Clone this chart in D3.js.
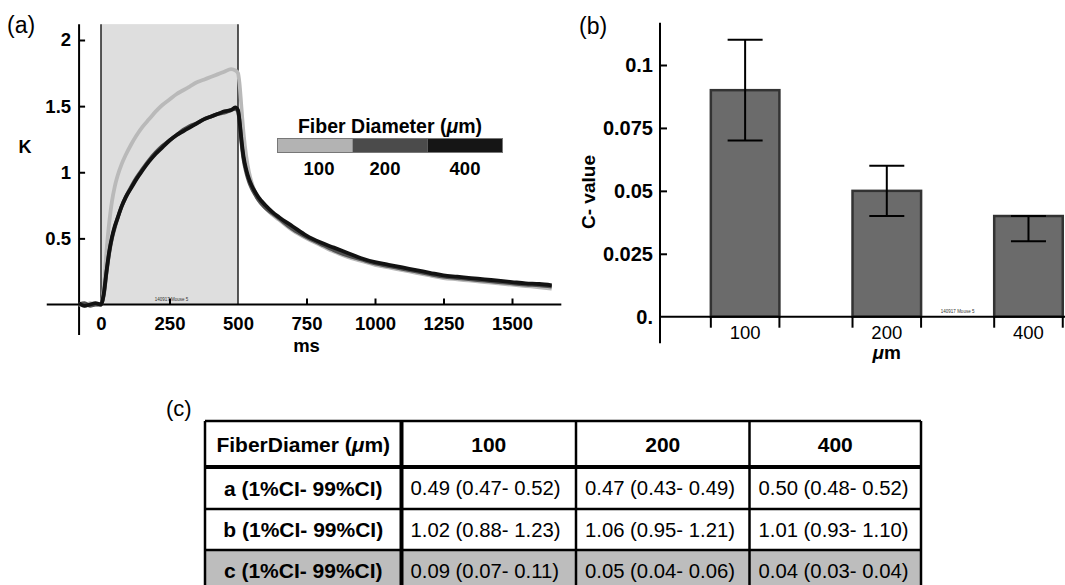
<!DOCTYPE html>
<html>
<head>
<meta charset="utf-8">
<script src="https://cdn.jsdelivr.net/npm/d3@7"></script>
<style>
  body { margin: 0; background: #fff; }
  svg text { font-family: "Liberation Sans", Arial, Helvetica, sans-serif; }
</style>
</head>
<body>
<svg id="fig" width="1065" height="585"></svg>
<script>
// ---- data ----
var timeMs = [-80, -60, -40, -20, 0, 10, 20, 30, 40, 50, 60, 75, 90, 110, 130, 150,
  175, 200, 225, 250, 275, 300, 325, 350, 375, 400, 425, 450, 475, 490, 500,
  505, 510, 515, 520, 530, 540, 550, 560, 575, 600, 625, 650,
  700, 750, 800, 850, 900, 950, 1000, 1050, 1100, 1150, 1200, 1250, 1300, 1350,
  1400, 1450, 1500, 1550, 1600, 1645];

var k100 = [0, -0.01, 0.01, 0, 0, 0.12, 0.40, 0.62, 0.78, 0.89, 0.97, 1.06, 1.13, 1.21, 1.28, 1.34,
  1.40, 1.46, 1.51, 1.55, 1.59, 1.62, 1.65, 1.68, 1.70, 1.72, 1.74, 1.76, 1.78, 1.77, 1.75,
  1.68, 1.56, 1.42, 1.30, 1.12, 1.00, 0.92, 0.86, 0.79, 0.73, 0.68, 0.64,
  0.56, 0.50, 0.45, 0.40, 0.36, 0.33, 0.30, 0.28, 0.26, 0.24, 0.22, 0.20, 0.19, 0.18,
  0.17, 0.16, 0.15, 0.14, 0.13, 0.12];

var k200 = [0, 0.01, -0.01, 0, 0, 0.07, 0.24, 0.39, 0.50, 0.58, 0.65, 0.74, 0.81, 0.89, 0.96, 1.02,
  1.09, 1.15, 1.20, 1.24, 1.28, 1.32, 1.35, 1.37, 1.40, 1.42, 1.44, 1.45, 1.47, 1.48, 1.46,
  1.39, 1.28, 1.18, 1.10, 1.00, 0.93, 0.88, 0.84, 0.79, 0.73, 0.69, 0.65,
  0.57, 0.51, 0.46, 0.41, 0.37, 0.34, 0.31, 0.29, 0.27, 0.25, 0.23, 0.21, 0.20, 0.19,
  0.18, 0.17, 0.16, 0.15, 0.145, 0.135];

var k400 = [0.01, -0.01, 0, 0.01, 0, 0.08, 0.25, 0.40, 0.51, 0.59, 0.65, 0.74, 0.81, 0.88, 0.95, 1.01,
  1.08, 1.14, 1.19, 1.24, 1.28, 1.31, 1.34, 1.37, 1.40, 1.42, 1.44, 1.46, 1.47, 1.49, 1.47,
  1.40, 1.30, 1.20, 1.12, 1.02, 0.95, 0.90, 0.86, 0.81, 0.75, 0.70, 0.66,
  0.59, 0.52, 0.47, 0.43, 0.39, 0.35, 0.32, 0.30, 0.28, 0.26, 0.24, 0.22, 0.21, 0.20,
  0.19, 0.18, 0.17, 0.16, 0.155, 0.145];

var diameters = ["100", "200", "400"];
var seriesColors = ["#b9b9b9", "#505050", "#121212"];
var legendColors = ["#b3b3b3", "#4b4b4b", "#151515"];

var msTicks = [0, 250, 500, 750, 1000, 1250, 1500];
var kTicks = [0.5, 1, 1.5, 2];

var cValue = [0.09, 0.05, 0.04];
var cLow = [0.07, 0.04, 0.03];
var cHigh = [0.11, 0.06, 0.04];
var cTicks = [0, 0.025, 0.05, 0.075, 0.1];
var cTickLabels = ["0.", "0.025", "0.05", "0.075", "0.1"];

var tableRowLabels = ["a (1%CI- 99%CI)", "b (1%CI- 99%CI)", "c (1%CI- 99%CI)"];
var tableA = ["0.49 (0.47- 0.52)", "0.47 (0.43- 0.49)", "0.50 (0.48- 0.52)"];
var tableB = ["1.02 (0.88- 1.23)", "1.06 (0.95- 1.21)", "1.01 (0.93- 1.10)"];
var tableC = ["0.09 (0.07- 0.11)", "0.05 (0.04- 0.06)", "0.04 (0.03- 0.04)"];

var svg = d3.select("#fig");
var FONT = "Liberation Sans, Arial, sans-serif";

// helper: "(µm)" with italic mu
function muLabel(sel, before, after) {
  sel.append("tspan").text(before);
  sel.append("tspan").attr("font-style", "italic").text("\u03bc");
  sel.append("tspan").text(after);
}

// ================= panel (a) =================
var xA = d3.scaleLinear().domain([0, 1500]).range([101, 512]);
var yA = d3.scaleLinear().domain([0, 2]).range([304.5, 40]);

var gA = svg.append("g");

// stimulus window
gA.append("rect")
  .attr("x", xA(0)).attr("y", yA(2.12))
  .attr("width", xA(500) - xA(0)).attr("height", yA(0) - yA(2.12))
  .attr("fill", "#dedede");
[0, 500].forEach(function(t) {
  gA.append("line")
    .attr("x1", xA(t)).attr("x2", xA(t))
    .attr("y1", yA(2.12)).attr("y2", yA(0))
    .attr("stroke", "#222").attr("stroke-width", 1.5);
});

gA.append("text")
  .attr("x", (xA(0) + xA(500)) / 2 + 2).attr("y", yA(0) - 4)
  .attr("text-anchor", "middle").attr("font-size", 4.5).attr("fill", "#333")
  .text("140917 Mouse 5");

// axes lines (crossing at the corner)
gA.append("line")
  .attr("x1", xA(-198)).attr("x2", xA(1680))
  .attr("y1", yA(0)).attr("y2", yA(0))
  .attr("stroke", "#000").attr("stroke-width", 2);
gA.append("line")
  .attr("x1", xA(-80)).attr("x2", xA(-80))
  .attr("y1", yA(2.12)).attr("y2", yA(-0.23))
  .attr("stroke", "#000").attr("stroke-width", 2);

var xAxisA = gA.append("g")
  .attr("transform", "translate(0," + yA(0) + ")")
  .call(d3.axisBottom(xA).tickValues(msTicks).tickFormat(d3.format("d"))
    .tickSizeInner(-6).tickSizeOuter(0).tickPadding(12));
xAxisA.select(".domain").remove();
xAxisA.selectAll(".tick line").attr("stroke-width", 2);
xAxisA.selectAll(".tick line").filter(function(d) { return d === 0 || d === 500; }).remove();
xAxisA.selectAll("text").attr("font-size", 18.5).attr("font-weight", "bold").attr("font-family", FONT);

var yAxisA = gA.append("g")
  .attr("transform", "translate(" + xA(-80) + ",0)")
  .call(d3.axisLeft(yA).tickValues(kTicks).tickSizeInner(-6).tickSizeOuter(0).tickPadding(8)
    .tickFormat(function(d) { return String(d); }));
yAxisA.select(".domain").remove();
yAxisA.selectAll(".tick line").attr("stroke-width", 2);
yAxisA.selectAll("text").attr("font-size", 18.5).attr("font-weight", "bold").attr("font-family", FONT);

gA.append("text").attr("x", 25).attr("y", 153).attr("text-anchor", "middle")
  .attr("font-size", 18).attr("font-weight", "bold").text("K");
gA.append("text").attr("x", xA(750)).attr("y", 352).attr("text-anchor", "middle")
  .attr("font-size", 18.5).attr("font-weight", "bold").text("ms");
gA.append("text").attr("x", 7).attr("y", 33)
  .attr("font-size", 23).text("(a)");

// traces
var series = [k100, k200, k400];
var line = d3.line()
  .x(function(d) { return xA(d[0]); })
  .y(function(d) { return yA(d[1]); })
  .curve(d3.curveMonotoneX);

gA.selectAll(".trace")
  .data(series)
  .enter()
  .append("path")
  .attr("class", "trace")
  .attr("d", function(vals) { return line(d3.zip(timeMs, vals)); })
  .attr("fill", "none")
  .attr("stroke", function(d, i) { return seriesColors[i]; })
  .attr("stroke-width", 3.8)
  .attr("stroke-linejoin", "round");

// legend
var leg = gA.append("g");
var legScale = d3.scaleBand().domain(diameters).range([277.5, 502.5]);
leg.append("text").attr("x", 390).attr("y", 133).attr("text-anchor", "middle")
  .attr("font-size", 19.5).attr("font-weight", "bold")
  .call(muLabel, "Fiber Diameter (", "m)");
leg.selectAll("rect").data(diameters).enter().append("rect")
  .attr("x", function(d) { return legScale(d); })
  .attr("y", 138.5).attr("width", legScale.bandwidth()).attr("height", 14)
  .attr("fill", function(d, i) { return legendColors[i]; });
leg.append("rect").attr("x", 277.5).attr("y", 138.5).attr("width", 225).attr("height", 14)
  .attr("fill", "none").attr("stroke", "#777").attr("stroke-width", 1);
leg.selectAll(".legLab").data(diameters).enter().append("text")
  .attr("class", "legLab")
  .attr("x", function(d) { return legScale(d) + legScale.bandwidth() / 2 + (d === "100" ? 4 : d === "200" ? -5 : 0); })
  .attr("y", 175).attr("text-anchor", "middle")
  .attr("font-size", 18.5).attr("font-weight", "bold")
  .text(function(d) { return d; });

// ================= panel (b) =================
var xB = d3.scaleBand().domain(diameters).range([674, 1099.6]).paddingInner(0.516).paddingOuter(0.26);
var yB = d3.scaleLinear().domain([0, 0.1]).range([316.7, 65]);
var gB = svg.append("g");

gB.append("text").attr("x", 579).attr("y", 34).attr("font-size", 23).text("(b)");

gB.selectAll(".bar").data(cValue).enter().append("rect")
  .attr("class", "bar")
  .attr("x", function(d, i) { return xB(diameters[i]); })
  .attr("y", function(d) { return yB(d); })
  .attr("width", xB.bandwidth())
  .attr("height", function(d) { return yB(0) - yB(d); })
  .attr("fill", "#6b6b6b").attr("stroke", "#333").attr("stroke-width", 2.5);

gB.append("text")
  .attr("x", (xB("200") + xB.bandwidth() + xB("400")) / 2).attr("y", yB(0) - 4)
  .attr("text-anchor", "middle").attr("font-size", 4.5).attr("fill", "#333")
  .text("140917 Mouse 5");

// error bars
var err = gB.selectAll(".err").data(cValue).enter().append("g").attr("class", "err")
  .attr("transform", function(d, i) { return "translate(" + (xB(diameters[i]) + xB.bandwidth() / 2) + ",0)"; });
err.append("line").attr("x1", 0).attr("x2", 0)
  .attr("y1", function(d, i) { return yB(cLow[i]); })
  .attr("y2", function(d, i) { return yB(cHigh[i]); })
  .attr("stroke", "#000").attr("stroke-width", 2);
err.append("line").attr("x1", -17.5).attr("x2", 17.5)
  .attr("y1", function(d, i) { return yB(cLow[i]); })
  .attr("y2", function(d, i) { return yB(cLow[i]); })
  .attr("stroke", "#000").attr("stroke-width", 2);
err.append("line").attr("x1", -17.5).attr("x2", 17.5)
  .attr("y1", function(d, i) { return yB(cHigh[i]); })
  .attr("y2", function(d, i) { return yB(cHigh[i]); })
  .attr("stroke", "#000").attr("stroke-width", 2);

// axes
gB.append("line").attr("x1", 660).attr("x2", 1065)
  .attr("y1", yB(0)).attr("y2", yB(0)).attr("stroke", "#000").attr("stroke-width", 2);
gB.append("line").attr("x1", 660).attr("x2", 660)
  .attr("y1", yB(0.1168)).attr("y2", yB(-0.0105)).attr("stroke", "#000").attr("stroke-width", 2);

var yAxisB = gB.append("g").attr("transform", "translate(660,0)")
  .call(d3.axisLeft(yB).tickValues(cTicks).tickSizeInner(-7).tickSizeOuter(0).tickPadding(7)
    .tickFormat(function(d, i) { return cTickLabels[i]; }));
yAxisB.select(".domain").remove();
yAxisB.selectAll(".tick line").attr("stroke-width", 2);
yAxisB.selectAll(".tick line").filter(function(d) { return d === 0; }).remove();
yAxisB.selectAll("text").attr("font-size", 20).attr("font-weight", "bold").attr("font-family", FONT);

// bar-edge ticks and category labels
diameters.forEach(function(d) {
  [xB(d), xB(d) + xB.bandwidth()].forEach(function(xe) {
    gB.append("line").attr("x1", xe).attr("x2", xe)
      .attr("y1", yB(0)).attr("y2", yB(0) + 11)
      .attr("stroke", "#000").attr("stroke-width", 2);
  });
});
var xAxisB = gB.append("g").attr("transform", "translate(0," + yB(0) + ")")
  .call(d3.axisBottom(xB).tickSize(0).tickPadding(9));
xAxisB.select(".domain").remove();
xAxisB.selectAll("text").attr("font-size", 18.5).attr("font-family", FONT);

gB.append("text").attr("x", xB("200") + xB.bandwidth() / 2).attr("y", 359)
  .attr("text-anchor", "middle").attr("font-size", 19).attr("font-weight", "bold")
  .call(muLabel, "", "m");

gB.append("text")
  .attr("transform", "translate(595,192) rotate(-90)")
  .attr("text-anchor", "middle").attr("font-size", 19).attr("font-weight", "bold")
  .text("C- value");

// ================= panel (c) table =================
var colEdges = [205, 401.5, 576, 749.5, 921];
var rowEdges = [421, 467, 509, 550, 591];
var gC = svg.append("g");

gC.append("text").attr("x", 166).attr("y", 416).attr("font-size", 22).text("(c)");

var tableRows = [["FiberDiamer", "100", "200", "400"]]
  .concat([tableA, tableB, tableC].map(function(r, i) { return [tableRowLabels[i]].concat(r); }));

// c row shading
gC.append("rect").attr("x", colEdges[0]).attr("y", rowEdges[3])
  .attr("width", colEdges[4] - colEdges[0]).attr("height", rowEdges[4] - rowEdges[3])
  .attr("fill", "#bdbdbd");

// grid lines
rowEdges.forEach(function(y, i) {
  gC.append("line").attr("x1", colEdges[0]).attr("x2", colEdges[4]).attr("y1", y).attr("y2", y)
    .attr("stroke", "#000").attr("stroke-width", i === 1 ? 4 : 2.5);
});
colEdges.forEach(function(x, i) {
  gC.append("line").attr("x1", x).attr("x2", x).attr("y1", rowEdges[0]).attr("y2", rowEdges[4])
    .attr("stroke", "#000").attr("stroke-width", i === 1 ? 4 : 2.5);
});

tableRows.forEach(function(row, r) {
  var yMid = (rowEdges[r] + rowEdges[r + 1]) / 2;
  row.forEach(function(cell, c) {
    var isLabel = (r === 0 || c === 0);
    var t = gC.append("text")
      .attr("y", yMid).attr("dy", "0.36em")
      .attr("font-size", isLabel ? 21 : 20.3)
      .attr("font-weight", isLabel ? "bold" : "normal");
    if (isLabel) {
      t.attr("x", (colEdges[c] + colEdges[c + 1]) / 2).attr("text-anchor", "middle");
    } else {
      t.attr("x", colEdges[c] + 9);
    }
    if (r === 0 && c === 0) {
      t.call(muLabel, cell + " (", "m)");
    } else {
      t.text(cell);
    }
  });
});
</script>
</body>
</html>
